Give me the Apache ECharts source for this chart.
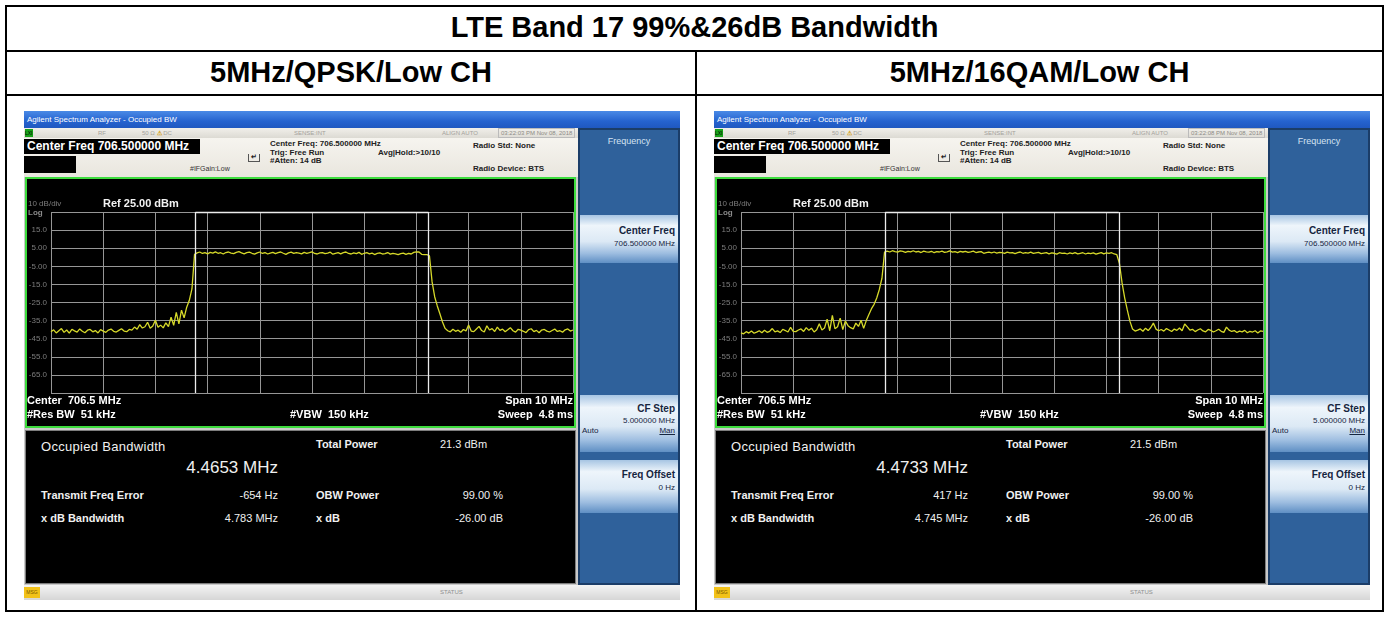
<!DOCTYPE html>
<html>
<head>
<meta charset="utf-8">
<title>LTE Band 17 99%&26dB Bandwidth</title>
<script src="https://cdn.jsdelivr.net/npm/echarts@6/dist/echarts.min.js"></script>
<style>
  body { margin: 0; width: 1389px; height: 617px; background: #fff; position: relative; overflow: hidden;
         font-family: "Liberation Sans", Arial, sans-serif; }
  .ln { position: absolute; background: #000; }
  .cell-title { position: absolute; font-weight: bold; font-size: 29px; color: #000; text-align: center; }
  .screen { position: absolute; top: 111px; width: 656px; height: 489px; background: #c9c9c9; overflow: hidden; }
  .screen div, .screen span { position: absolute; white-space: nowrap; }
  .titlebar { left: 0; top: 0; width: 656px; height: 17px; background: linear-gradient(#4a8ae6, #2563cf 60%, #1f58c0);
              color: #fff; font-size: 8px; line-height: 17px; padding-left: 3px; box-sizing: border-box; }
  .statusrow { left: 0; top: 17px; width: 554px; height: 10px; background: linear-gradient(#f1efea, #dcdad3); }
  .statusrow span { top: 1px; font-size: 6px; color: #a3a19b; line-height: 8px; }
  .info { left: 0; top: 27px; width: 554px; height: 39px; background: linear-gradient(#f6f4ef, #e9e6de); }
  .info span { font-size: 8px; font-weight: bold; color: #222; line-height: 9px; }
  .cfbox { left: 0; top: 1px; width: 176px; height: 15px; background: #000; color: #fff; font-weight: bold;
           font-size: 12px; line-height: 15px; padding-left: 3px; box-sizing: border-box; }
  .cfbox2 { left: 0; top: 18px; width: 52px; height: 17px; background: #000; }
  .plot { left: 1px; top: 66px; width: 551px; height: 251px; }
  .results { left: 1px; top: 319px; width: 551px; height: 154px; background: #000; border: 1px solid #7d7d7d; box-sizing: border-box; }
  .results span { color: #f0f0f0; font-size: 11px; font-weight: bold; line-height: 13px; }
  .softkeys { left: 554px; top: 17px; width: 102px; height: 457px; background: #2f619b; border: 2px solid #1b3d68; box-sizing: border-box; }
  .key { left: 0; width: 98px; background: linear-gradient(#a7c5e3 0%, #eef5fb 22%, #dce9f5 55%, #9dbde0 80%, #5f8fc4 100%); }
  .key span { right: 3px; color: #16253f; }
  .key .kt { font-size: 10px; font-weight: bold; }
  .key .kv { font-size: 8px; }
  .msgbar { left: 0; top: 474px; width: 656px; height: 15px; background: linear-gradient(#f4f4f4, #d6d6d6); }
</style>
</head>
<body>

<div class="ln" style="left:5px;top:5px;width:1379px;height:2px"></div>
<div class="ln" style="left:5px;top:50px;width:1379px;height:2px"></div>
<div class="ln" style="left:5px;top:94px;width:1379px;height:2px"></div>
<div class="ln" style="left:5px;top:610px;width:1379px;height:2px"></div>
<div class="ln" style="left:5px;top:5px;width:2px;height:607px"></div>
<div class="ln" style="left:1382px;top:5px;width:2px;height:607px"></div>
<div class="ln" style="left:695px;top:50px;width:2px;height:562px"></div>

<div class="cell-title" style="left:7px;width:1375px;top:11px">LTE Band 17 99%&amp;26dB Bandwidth</div>
<div class="cell-title" style="left:7px;width:688px;top:56px">5MHz/QPSK/Low CH</div>
<div class="cell-title" style="left:697px;width:685px;top:56px">5MHz/16QAM/Low CH</div>

<div id="screenA" class="screen" style="left:24px"></div>
<div id="screenB" class="screen" style="left:714px"></div>

<script>
// trace readings in dBm, one every 0.05 MHz from center-5 MHz to center+5 MHz
const qpskLevels = [
  -41.2, -40.1, -41.8, -40.6, -39.4, -41.5, -40.2, -41.9, -39.8, -40.7,
  -41.4, -39.6, -40.9, -41.7, -40.3, -39.9, -41.2, -40.5, -41.8, -40.0,
  -40.8, -41.5, -40.2, -39.7, -40.9, -41.3, -40.4, -39.5, -40.8, -41.1,
  -39.9, -40.3,
  -38.6, -39.8, -37.2, -39.1, -38.4, -35.9, -39.2, -38.0, -34.8, -38.7, -37.5, -39.0, -36.2, -38.3,
  -33.1, -37.6, -30.4, -36.8, -29.2, -33.5, -27.6, -23.8, -17.5, 1.6,
  2.4, 2.9, 2.1, 2.6, 1.9, 2.7, 2.3, 3.0, 2.2, 2.5,
  1.8, 2.6, 2.9, 2.3, 2.0, 2.7, 3.1, 2.4, 1.9, 2.5,
  2.8, 2.2, 1.7, 2.4, 2.9, 2.1, 2.6, 1.8, 2.3, 2.7,
  2.0, 2.5, 2.9, 2.2, 1.6, 2.4, 2.8, 2.1, 2.6, 2.3,
  1.9, 2.7, 2.2, 2.5, 3.0, 2.1, 1.8, 2.4, 2.6, 2.0,
  2.3, 2.8, 1.7, 2.2, 2.5, 1.9, 2.6, 2.9, 2.1, 1.8,
  2.4, 2.0, 2.7, 1.6, 2.2, 2.5, 1.9, 2.3, 1.5, 2.1,
  2.4, 1.8, 2.0, 2.6, 1.7, 2.2, 1.9, 1.4, 2.0, 2.3,
  1.6, 2.1, 1.8, 2.7, 3.0, 2.9, 1.6, 1.4, 1.5,
  0.8, -13.5, -21.8, -26.9, -31.2, -35.8, -39.3,
  -40.6, -41.2, -39.8, -40.9, -40.3, -41.5, -39.9, -40.7, -37.4, -40.8,
  -41.1, -39.6, -38.2, -40.5, -41.3, -37.9, -40.2, -39.4, -41.0, -38.6,
  -40.4, -39.7, -41.2, -40.1, -38.9, -40.6, -41.4, -39.8, -40.3, -40.9,
  -41.6, -40.0, -39.5, -41.1, -40.4, -41.7, -40.2, -39.9, -40.8, -41.3,
  -40.5, -39.7, -41.0, -40.6, -41.4, -40.1, -39.6, -40.8, -40.2
];
const qam16Levels = [
  -41.8, -42.3, -41.1, -41.9, -40.8, -42.0, -41.4, -40.6, -41.7, -40.3,
  -41.5, -40.9, -39.4, -41.2, -40.7, -41.6, -39.8, -40.5, -41.3, -38.7,
  -40.9, -41.1, -40.2, -39.6, -41.0, -38.9, -40.4, -39.2, -41.3, -40.1,
  -36.8, -40.2, -39.1, -34.2, -40.6, -32.1, -39.5, -38.4, -33.6, -40.0,
  -35.2, -37.8, -38.9, -39.6, -36.4, -38.2, -34.8, -39.3, -35.0,
  -31.6, -28.4, -26.0, -22.5, -17.8, -11.6, 2.8,
  3.4, 2.9, 3.6, 3.1, 2.8, 3.5, 3.2, 2.7, 3.3, 3.0,
  3.6, 2.9, 3.2, 2.6, 3.4, 3.0, 2.8, 3.3, 2.5, 3.1,
  2.9, 3.4, 2.7, 3.0, 3.5, 2.8, 3.1, 2.6, 3.2, 2.9,
  3.3, 2.7, 3.0, 3.4, 2.6, 2.9, 3.1, 2.2, 2.5, 2.8,
  2.4, 2.9, 2.3, 2.7, 2.5, 2.1, 2.8, 2.4, 2.6, 2.0,
  2.5, 2.9, 2.2, 2.6, 2.3, 2.8, 2.1, 2.4, 2.7, 2.0,
  2.3, 2.6, 1.9, 2.4, 2.2, 1.7, 2.5, 2.1, 2.3, 1.8,
  2.4, 2.0, 2.6, 1.9, 2.2, 2.5, 1.8, 2.3, 2.0, 2.4,
  1.7, 2.2, 2.6, 1.9, 2.4, 2.1, 2.5, 1.8, 1.4,
  -3.5, -14.2, -22.4, -29.1, -35.3, -39.6, -40.8,
  -40.3, -39.6, -40.9, -39.2, -40.5, -38.8, -36.4, -39.7, -40.6, -39.9,
  -40.8, -39.4, -40.2, -41.0, -39.7, -40.4, -39.1, -40.6, -36.9, -38.5,
  -40.3, -39.8, -41.1, -40.2, -39.5, -40.7, -41.2, -39.9, -40.4, -41.3,
  -40.6, -39.8, -40.9, -41.5, -38.6, -40.3, -41.0, -40.5, -41.6, -40.8,
  -41.2, -40.4, -41.7, -40.9, -41.3, -40.6, -41.8, -40.7, -41.0
];

const REF_LEVEL = 25;      // dBm, top of screen
const SWEEP_START = -5;    // MHz from center
const SWEEP_STEP = 0.05;   // MHz between trace points

const obwMHz = [4.4653, 4.4733];
const totalPower = ['21.3 dBm', '21.5 dBm'];
const freqError = ['-654 Hz', '417 Hz'];
const xdbBandwidth = ['4.783 MHz', '4.745 MHz'];
const clockText = ['03:22:03 PM Nov 08, 2018', '03:22:08 PM Nov 08, 2018'];

function screenHtml(k) {
  return `
  <div class="titlebar">Agilent Spectrum Analyzer - Occupied BW</div>
  <div class="statusrow">
    <span style="left:1px;top:1px;width:8px;height:8px;background:#1aa31a;color:#000;font-size:5px;">LXI</span>
    <span style="left:74px">RF</span>
    <span style="left:118px">50 &Omega; <b style="color:#d4a017">&#9888;</b> DC</span>
    <span style="left:270px">SENSE:INT</span>
    <span style="left:418px">ALIGN AUTO</span>
    <span style="left:474px;top:0;border:1px solid #bbb;padding:0 2px;color:#8d8b86">${clockText[k]}</span>
  </div>
  <div class="info">
    <div class="cfbox">Center Freq 706.500000 MHz</div>
    <div class="cfbox2"></div>
    <span style="left:166px;top:26px;font-size:7px;font-weight:normal;color:#333">#IFGain:Low</span>
    <span style="left:224px;top:16px;width:10px;height:7px;border:1px solid #555;border-top:none;font-size:7px;line-height:6px;text-align:center">&#8629;</span>
    <span style="left:246px;top:1px">Center Freq: 706.500000 MHz</span>
    <span style="left:246px;top:10px">Trig: Free Run</span>
    <span style="left:354px;top:10px">Avg|Hold:&gt;10/10</span>
    <span style="left:246px;top:18px">#Atten: 14 dB</span>
    <span style="left:449px;top:3px">Radio Std: None</span>
    <span style="left:449px;top:26px">Radio Device: BTS</span>
  </div>
  <div class="plot" id="plot${k}"></div>
  <div class="results">
    <span style="left:15px;top:9px;font-size:13px;font-weight:normal;letter-spacing:0.3px">Occupied Bandwidth</span>
    <span style="right:297px;top:27px;font-size:17px;font-weight:normal;line-height:20px">${obwMHz[k].toFixed(4)} MHz</span>
    <span style="left:290px;top:7px">Total Power</span>
    <span style="left:414px;top:7px;font-weight:normal">${totalPower[k]}</span>
    <span style="left:15px;top:58px">Transmit Freq Error</span>
    <span style="right:297px;top:58px;font-weight:normal">${freqError[k]}</span>
    <span style="left:290px;top:58px">OBW Power</span>
    <span style="right:72px;top:58px;font-weight:normal">99.00 %</span>
    <span style="left:15px;top:81px">x dB Bandwidth</span>
    <span style="right:297px;top:81px;font-weight:normal">${xdbBandwidth[k]}</span>
    <span style="left:290px;top:81px">x dB</span>
    <span style="right:72px;top:81px;font-weight:normal">-26.00 dB</span>
  </div>
  <div class="softkeys">
    <span style="left:0;width:98px;top:6px;text-align:center;font-size:9px;color:#d5e3f3">Frequency</span>
    <div class="key" style="top:85px;height:48px">
      <span class="kt" style="top:10px">Center Freq</span>
      <span class="kv" style="top:24px">706.500000 MHz</span>
    </div>
    <div class="key" style="top:265px;height:57px">
      <span class="kt" style="top:8px">CF Step</span>
      <span class="kv" style="top:21px">5.000000 MHz</span>
      <span class="kv" style="top:31px;left:2px;right:auto">Auto</span>
      <span class="kv" style="top:31px;text-decoration:underline">Man</span>
    </div>
    <div class="key" style="top:330px;height:53px">
      <span class="kt" style="top:9px">Freq Offset</span>
      <span class="kv" style="top:23px">0 Hz</span>
    </div>
  </div>
  <div class="msgbar">
    <span style="left:0;top:2px;width:16px;height:11px;background:#f2c21a;font-size:5px;color:#7a5a00;line-height:11px;text-align:center">MSG</span>
    <span style="left:416px;top:4px;font-size:6px;color:#8e8e8e">STATUS</span>
  </div>`;
}

function dbLabel(v) {
  if (v === 0 || v === -100) return '';
  const dbm = v + REF_LEVEL;
  return Math.abs(dbm) < 10 ? dbm.toFixed(2) : dbm.toFixed(1);
}

function txt(x, y, text, opt) {
  return {
    type: 'text', x: x, y: y, silent: true,
    style: Object.assign({
      text: text, fill: '#fff', fontSize: 11, fontWeight: 'bold',
      fontFamily: 'Liberation Sans, Arial, sans-serif',
      textAlign: 'left', textVerticalAlign: 'middle', align: 'left', verticalAlign: 'middle'
    }, opt || {})
  };
}

function plotOption(levels, obw) {
  const trace = levels.map((v, i) => [SWEEP_START + i * SWEEP_STEP, v - REF_LEVEL]);
  const half = obw / 2;
  const gray = { fill: '#7c7c7c', fontSize: 8, fontWeight: 'normal' };
  return {
    animation: false,
    backgroundColor: '#000',
    grid: { left: 26, right: 3, top: 35, bottom: 35 },
    xAxis: {
      type: 'value', min: -5, max: 5, interval: 1,
      axisLine: { show: false }, axisTick: { show: false }, axisLabel: { show: false },
      splitLine: { lineStyle: { color: '#969696', width: 1 } }
    },
    yAxis: {
      type: 'value', min: -100, max: 0, interval: 10,
      axisLine: { show: false }, axisTick: { show: false },
      axisLabel: { color: '#7c7c7c', fontSize: 8, margin: 4, formatter: dbLabel,
                   fontFamily: 'Liberation Sans, Arial, sans-serif' },
      splitLine: { lineStyle: { color: '#969696', width: 1 } }
    },
    graphic: [
      { type: 'rect', silent: true, shape: { x: 1, y: 1, width: 549, height: 249 },
        style: { fill: 'none', stroke: '#3ddc3d', lineWidth: 2 } },
      txt(3, 27, '10 dB/div', gray),
      txt(78, 27, 'Ref 25.00 dBm', { fill: '#f2f2f2' }),
      txt(3, 36, 'Log', { fill: '#8a8a8a', fontSize: 8 }),
      txt(2, 224, 'Center  706.5 MHz'),
      txt(2, 238, '#Res BW  51 kHz'),
      txt(265, 238, '#VBW  150 kHz'),
      txt(548, 224, 'Span 10 MHz', { textAlign: 'right', align: 'right' }),
      txt(548, 238, 'Sweep  4.8 ms', { textAlign: 'right', align: 'right' })
    ],
    series: [{
      type: 'line', data: trace, symbol: 'none', silent: true,
      lineStyle: { color: '#d6d92a', width: 1.3 },
      markLine: {
        silent: true, symbol: 'none', label: { show: false },
        lineStyle: { color: '#ececec', width: 1.3, type: 'solid' },
        data: [
          { xAxis: -half }, { xAxis: half },
          [{ coord: [-half, 0] }, { coord: [half, 0] }]
        ]
      }
    }]
  };
}

['screenA', 'screenB'].forEach((id, k) => {
  document.getElementById(id).innerHTML = screenHtml(k);
  const chart = echarts.init(document.getElementById('plot' + k));
  chart.setOption(plotOption(k === 0 ? qpskLevels : qam16Levels, obwMHz[k]));
});
</script>
</body>
</html>
